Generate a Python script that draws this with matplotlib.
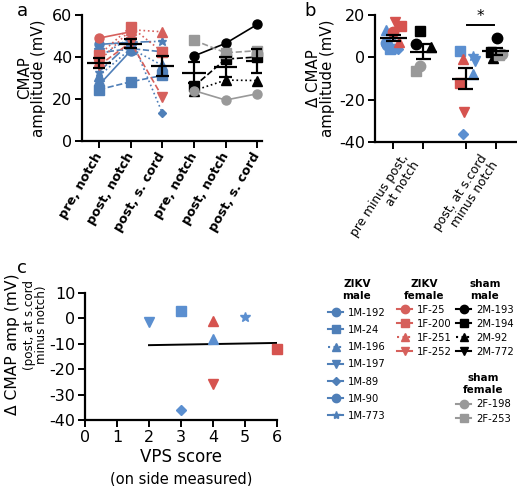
import numpy as np
import matplotlib
matplotlib.use('Agg')
import matplotlib.pyplot as plt
from matplotlib.lines import Line2D

plt.rcParams['font.family'] = ['DejaVu Sans']
plt.rcParams['axes.unicode_minus'] = False

# mice, groups and styles
mice = ['1M-192', '1M-24', '1M-196', '1M-197', '1M-89', '1M-90', '1M-773',
        '1F-25', '1F-200', '1F-251', '1F-252',
        '2M-193', '2M-194', '2M-92', '2M-772',
        '2F-198', '2F-253']
group = ['zm'] * 7 + ['zf'] * 4 + ['sm'] * 4 + ['sf'] * 2
marker = ['o', 's', '^', 'v', 'D', 'o', '*',
          'o', 's', '^', 'v',
          'o', 's', '^', 'v',
          'o', 's']
lstyle = ['-', '--', ':', '--', ':', '-', '-.',
          '-', ':', ':', '--',
          '-', '--', ':', '-',
          '-', '--']
leg_style = ['-', '-', ':', '-', '-', '-', '-',
             '-', '-', ':', '-',
             '-', '-', ':', '-',
             '-', '-']

# panel a: CMAP amplitude (mV)
a_pre = [46, 24.5, 31, 42, 40, 26.7, 33, 49, 41, 38, 36,
         40.5, 26, 24, np.nan, 24, 48]
a_post = [47, 28.2, 44, 44, 49.3, 43, 47, 52, 54.4, 53, 47,
          46.5, 39, 29, np.nan, 19.5, 42]
a_scord = [np.nan, 31.2, 36, 42.5, 13.3, np.nan, 47.5, np.nan, 42.4, 52, 21,
           55.5, 40, 28.8, np.nan, 22.5, 43]
a_cats = ['pre, notch', 'post, notch', 'post, s. cord'] * 2

# panel b: delta CMAP (mV)
b_notch = [7, 4, 12.9, 4, 4, 6, 10.5, 12, 14.8, 7.4, 16.8,
           6.1, 12.6, 4.7, np.nan, -4.1, -6.3]
b_scord = [np.nan, 3, -8, -1.5, -36, np.nan, 0.5, np.nan, -12, -1, -26,
           9.3, 2.7, -0.5, np.nan, 1.5, 1.2]
b_jit_notch = [-0.25, -0.1, -0.25, 0.05, 0.15, -0.2, -0.05, 0.0, 0.25, 0.2, 0.05,
               -0.25, -0.1, 0.25, 0, -0.1, -0.25]
b_jit_scord = [0, -0.2, 0.25, 0.3, -0.1, 0, 0.25, 0, -0.2, -0.1, -0.05,
               0.05, -0.15, -0.1, 0, 0.2, 0.1]
b_labels = ['pre minus post,\nat notch', 'post, at s.cord\nminus notch']

# panel c: VPS score (ZIKV mice with a spinal cord recording)
vps = [np.nan, 3, 4, 2, 3, np.nan, 5, np.nan, 6, 4, 4,
       np.nan, np.nan, np.nan, np.nan, np.nan, np.nan]

colors = {'zm': '#4f7fb8', 'zf': '#d6605c', 'sm': '#000000', 'sf': '#999999'}
pt_colors = {'zm': '#5b8fd0', 'zf': '#d6534f', 'sm': '#000000', 'sf': '#999999'}

W, H = 517, 486
fig = plt.figure(figsize=(W / 100, H / 100), dpi=100)


def box(l, t, r, b):
    return [l / W, 1 - b / H, (r - l) / W, (b - t) / H]


def style_axes(ax):
    for s in ['top', 'right']:
        ax.spines[s].set_visible(False)
    for s in ['left', 'bottom']:
        ax.spines[s].set_linewidth(1.6)
    ax.tick_params(width=1.4, length=5, labelsize=11.5, pad=2)


def mean_sem(ax, x, vals, wm, wc):
    v = np.array(vals, dtype=float)
    v = v[~np.isnan(v)]
    m = v.mean()
    se = v.std(ddof=1) / np.sqrt(len(v))
    kw = dict(color='k', lw=1.6, zorder=5, solid_capstyle='butt')
    ax.plot([x - wm, x + wm], [m, m], **kw)
    ax.plot([x, x], [m - se, m + se], **kw)
    ax.plot([x - wc, x + wc], [m + se, m + se], **kw)
    ax.plot([x - wc, x + wc], [m - se, m - se], **kw)


z = [i for i in range(len(mice)) if group[i] in ('zm', 'zf')]
s = [i for i in range(len(mice)) if group[i] in ('sm', 'sf')]

# ---- panel a
ax = fig.add_axes(box(82, 15, 262, 141))
style_axes(ax)
for i in range(len(mice)):
    g = group[i]
    xs = [0, 1, 2] if g in ('zm', 'zf') else [3, 4, 5]
    ax.plot(xs, [a_pre[i], a_post[i], a_scord[i]], color=colors[g], ls=lstyle[i],
            marker=marker[i], ms=6.5 if marker[i] != 'D' else 4.5, lw=1.2,
            clip_on=False)
for k, arr in enumerate([a_pre, a_post, a_scord]):
    mean_sem(ax, k, [arr[i] for i in z], 0.37, 0.2)
    mean_sem(ax, k + 3, [arr[i] for i in s], 0.37, 0.2)
ax.set_xlim(-0.54, 5.15)
ax.set_ylim(0, 60)
ax.set_yticks([0, 20, 40, 60])
ax.set_xticks(range(6))
ax.set_xticklabels(a_cats, rotation=60, ha='right', va='center',
                   rotation_mode='anchor', fontweight='bold', fontsize=9.2)
ax.tick_params(axis='x', pad=4)
ax.set_ylabel('CMAP\namplitude (mV)', fontsize=10.8, linespacing=0.95, labelpad=4)
fig.text(22 / W, 1 - 11 / H, 'a', fontsize=13, ha='center', va='center')

# ---- panel b
axb = fig.add_axes(box(375, 15, 517, 142))
style_axes(axb)
pos = [0, 1, 2.4, 3.4]
for i in range(len(mice)):
    g = group[i]
    base = 0 if g in ('zm', 'zf') else 1
    ms = 7.5 if marker[i] != 'D' else 5.5
    axb.plot(pos[base] + b_jit_notch[i], b_notch[i], marker=marker[i], ms=ms,
             color=pt_colors[g], ls='none')
    axb.plot(pos[base + 2] + b_jit_scord[i], b_scord[i], marker=marker[i], ms=ms,
             color=pt_colors[g], ls='none')
mean_sem(axb, pos[0], [b_notch[i] for i in z], 0.45, 0.25)
mean_sem(axb, pos[1], [b_notch[i] for i in s], 0.45, 0.25)
mean_sem(axb, pos[2], [b_scord[i] for i in z], 0.45, 0.25)
mean_sem(axb, pos[3], [b_scord[i] for i in s], 0.45, 0.25)
axb.plot([pos[2] + 0.05, pos[3] - 0.05], [15.2, 15.2], color='k', lw=1.4)
axb.text((pos[2] + pos[3]) / 2, 15.8, '*', ha='center', va='bottom', fontsize=11)
axb.set_xlim(-0.6, 4.1)
axb.set_ylim(-40, 20)
axb.set_yticks([-40, -20, 0, 20])
axb.set_xticks(pos)
axb.set_xticklabels([])
axb.set_xticks([0.6, 3.2], minor=True)
axb.set_xticklabels(b_labels, minor=True, rotation=57, ha='right', va='center',
                    rotation_mode='anchor', fontsize=8.8, linespacing=0.95)
axb.tick_params(axis='x', which='minor', length=0, pad=12)
axb.set_ylabel('Δ CMAP\namplitude (mV)', fontsize=10.8, linespacing=0.95, labelpad=3)
fig.text(310 / W, 1 - 11 / H, 'b', fontsize=13, ha='center', va='center')

# ---- panel c
axc = fig.add_axes(box(85, 293, 277, 420))
style_axes(axc)
cx, cy = [], []
for i in range(len(mice)):
    if np.isnan(vps[i]):
        continue
    g = group[i]
    axc.plot(vps[i], b_scord[i], marker=marker[i], ms=7.5 if marker[i] != 'D' else 5.5,
             color=pt_colors[g], ls='none', clip_on=False, zorder=4)
    cx.append(vps[i])
    cy.append(b_scord[i])
k, b0 = np.polyfit(cx, cy, 1)
xf = np.array([min(cx), max(cx)])
axc.plot(xf, k * xf + b0, color='k', lw=1.4)
axc.set_xlim(0, 6)
axc.set_ylim(-40, 10)
axc.set_xticks(range(7))
axc.set_yticks([-40, -30, -20, -10, 0, 10])
axc.set_xlabel('VPS score', fontsize=12, labelpad=2)
fig.text(181 / W, 1 - 479 / H, '(on side measured)', fontsize=10.5, ha='center',
         va='center')
fig.text(13 / W, 1 - 344 / H, 'Δ CMAP amp (mV)', fontsize=11.2, rotation=90,
         ha='center', va='center')
fig.text(35 / W, 1 - 325 / H, '(post, at s.cord\nminus notch)', fontsize=8.6,
         rotation=90, ha='center', va='center', linespacing=0.9)
fig.text(22 / W, 1 - 268 / H, 'c', fontsize=13, ha='center', va='center')


# ---- legend
def handles(idx, g):
    return [Line2D([0], [0], color=colors[g], ls=leg_style[i], marker=marker[i],
                   ms=6 if marker[i] != 'D' else 4.5, lw=1.5) for i in idx]


def leg(g, title, x, y, spacing):
    idx = [i for i in range(len(mice)) if group[i] == g]
    L = fig.legend(handles(idx, g), [mice[i] for i in idx], title=title,
                   loc='upper left', bbox_to_anchor=(x / W, 1 - y / H),
                   frameon=False, fontsize=7.2, handlelength=1.5,
                   handletextpad=0.5, labelspacing=spacing, borderpad=0,
                   borderaxespad=0,
                   title_fontproperties={'weight': 'bold', 'size': 7.5})
    L.get_title().set_multialignment('center')
    return L


leg('zm', 'ZIKV\nmale', 328, 279, 0.72)
leg('zf', 'ZIKV\nfemale', 397, 279, 0.4)
leg('sm', 'sham\nmale', 456, 279, 0.4)
leg('sf', 'sham\nfemale', 456, 373, 0.45)

fig.savefig('out.png', dpi=100)
